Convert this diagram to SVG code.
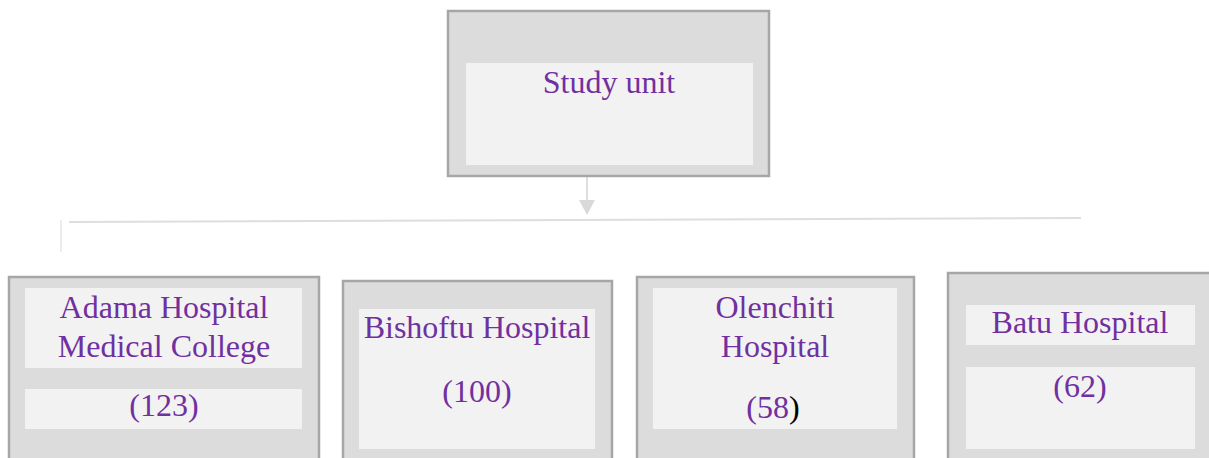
<svg xmlns="http://www.w3.org/2000/svg" width="1209" height="458" viewBox="0 0 1209 458">
<style>
.outer{fill:#dcdcdc;stroke:#a6a6a6;stroke-width:2.5}
.inner{fill:#f2f2f2}
.t{font-family:"Liberation Serif","Times New Roman",serif;font-size:32px;fill:#7030a0;text-anchor:middle}
.conn{stroke:#dedede;stroke-width:2;fill:none}
.head{fill:#d9d9d9}
</style>
<g id="connectors">
<line class="conn" x1="587" y1="177" x2="587" y2="200"/>
<path class="head" d="M579,200 L595,200 L587,215 Z"/>
<line class="conn" x1="69" y1="222" x2="1081" y2="218"/>
<line x1="61" y1="220" x2="61" y2="252" stroke="#e6e6e6" stroke-width="1.5"/>
</g>
<g id="study-unit">
<rect class="outer" x="448" y="11" width="321" height="165"/>
<rect class="inner" x="466" y="63" width="287" height="102"/>
<text class="t" x="609" y="93">Study unit</text>
</g>
<g id="adama">
<rect class="outer" x="9" y="277" width="310" height="200"/>
<rect class="inner" x="25" y="288" width="277" height="80"/>
<rect class="inner" x="25" y="389" width="277" height="40"/>
<text class="t" x="164" y="318">Adama Hospital</text>
<text class="t" x="164" y="357">Medical College</text>
<text class="t" x="164" y="416">(123)</text>
</g>
<g id="bishoftu">
<rect class="outer" x="343" y="281" width="269" height="200"/>
<rect class="inner" x="359" y="309" width="236" height="140"/>
<text class="t" x="477" y="338">Bishoftu Hospital</text>
<text class="t" x="477" y="402">(100)</text>
</g>
<g id="olenchiti">
<rect class="outer" x="637" y="277" width="277" height="200"/>
<rect class="inner" x="653" y="288" width="244" height="141"/>
<text class="t" x="775" y="318">Olenchiti</text>
<text class="t" x="775" y="357">Hospital</text>
<text class="t" x="773" y="418">(58<tspan fill="#000000">)</tspan></text>
</g>
<g id="batu">
<rect class="outer" x="948" y="273" width="280" height="200"/>
<rect class="inner" x="966" y="305" width="229" height="40"/>
<rect class="inner" x="966" y="367" width="229" height="82"/>
<text class="t" x="1080" y="333">Batu Hospital</text>
<text class="t" x="1080" y="397">(62)</text>
</g>
</svg>
